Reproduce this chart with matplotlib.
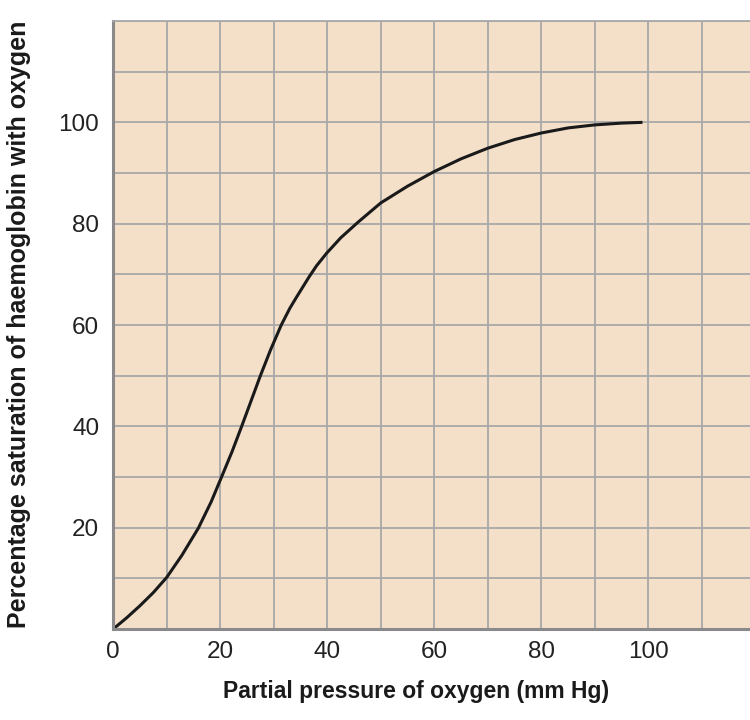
import matplotlib.pyplot as plt

# okunan noktalar (kismi basinc, doygunluk yuzdesi)
po2 = [0, 2.5, 5, 7.5, 10, 12.8, 15.9, 18.3, 20.2, 22.2, 24.0, 25.75, 27.5, 29.4,
       31.4, 33, 34.25, 36.6, 38, 39.9, 42.5, 45.75, 50, 55, 60, 65, 70, 75, 80, 85,
       90, 95, 98.9]
sat = [0, 2.2, 4.6, 7.2, 10.2, 14.5, 19.9, 25.1, 29.9, 35, 40, 45, 50, 55.1,
       60, 63.3, 65.5, 69.5, 71.7, 74.2, 77.2, 80.3, 84.1, 87.4, 90.3, 92.8, 94.9,
       96.6, 97.9, 98.9, 99.5, 99.85, 100]

xticks = [0, 20, 40, 60, 80, 100]
yticks = [20, 40, 60, 80, 100]

plt.rcParams['font.family'] = ['Liberation Sans', 'DejaVu Sans']

fig = plt.figure(figsize=(7.5, 7.2), dpi=100)
ax = fig.add_axes([0.151, 0.1264, 0.849, 0.8444])
ax.set_facecolor("#F4E0C9")

ax.set_xlim(0, 119)
ax.set_ylim(0, 120)
ax.set_xticks(range(0, 120, 10), minor=True)
ax.set_yticks(range(0, 121, 10), minor=True)
ax.set_xticks(xticks)
ax.set_yticks(yticks)
ax.grid(True, which="both", color="#A8A8A8", linewidth=1.3)
ax.set_axisbelow(True)

ax.plot(po2, sat, color="#1a1a1a", linewidth=2.2, solid_capstyle="butt", solid_joinstyle="round")

ax.tick_params(which="both", length=0, labelsize=17.5, colors="#222222")
ax.tick_params(axis="x", pad=9)
ax.tick_params(axis="y", pad=10)

for s in ["left", "bottom"]:
    ax.spines[s].set_color("#8a8a8a")
    ax.spines[s].set_linewidth(2.2)
ax.spines["top"].set_color("#A8A8A8")
ax.spines["top"].set_linewidth(1.3)
ax.spines["right"].set_visible(False)

fig.text(0.555, 0.039, "Partial pressure of oxygen (mm Hg)", ha="center", va="center",
         fontsize=16.5, fontweight="bold", color="#1a1a1a")
fig.text(0.026, 0.549, "Percentage saturation of haemoglobin with oxygen", ha="center",
         va="center", rotation=90, fontsize=18, fontweight="bold", color="#1a1a1a")

plt.savefig("out.png", dpi=100)
